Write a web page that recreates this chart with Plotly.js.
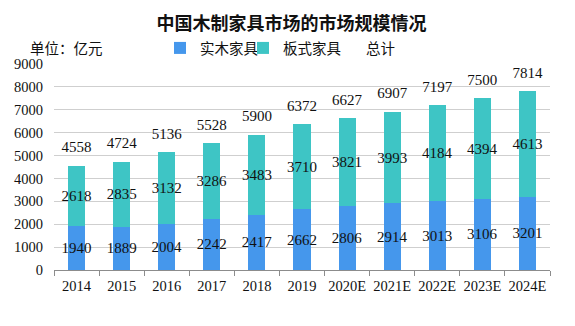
<!DOCTYPE html>
<html>
<head>
<meta charset="utf-8">
<script src="https://cdn.plot.ly/plotly-3.0.1.min.js"></script>
<style>html,body{margin:0;padding:0;background:#fff;}#chart{width:575px;height:326px;}</style>
</head>
<body>
<div id="chart"></div>
<script>
const categories = ["2014","2015","2016","2017","2018","2019","2020E","2021E","2022E","2023E","2024E"];
const solidWood = [1940,1889,2004,2242,2417,2662,2806,2914,3013,3106,3201];
const panel = [2618,2835,3132,3286,3483,3710,3821,3993,4184,4394,4613];
const totals = [4558,4724,5136,5528,5900,6372,6627,6907,7197,7500,7814];
const seriesNames = ["实木家具","板式家具","总计"];
const chartTitle = "中国木制家具市场的市场规模情况";
const unitLabel = "单位：亿元";

const serif = "Liberation Serif, Times New Roman, serif";
const labelFont = {family: serif, size: 15, color: "#111"};
const tickFont = {family: serif, size: 14.5, color: "#111"};
const cjkFont = "Noto Sans CJK SC, sans-serif";

const M = {l: 54, r: 25, t: 62, b: 56};
const W = 575, H = 326;
const plotW = W - M.l - M.r, plotH = H - M.t - M.b;

const traces = [
  {
    type: "bar", name: seriesNames[0], x: categories, y: solidWood,
    marker: {color: "#4597EC"},
    text: solidWood.map(String), textposition: "inside", insidetextanchor: "middle",
    textangle: 0, constraintext: "none", insidetextfont: labelFont, cliponaxis: false,
    hoverinfo: "none"
  },
  {
    type: "bar", name: seriesNames[1], x: categories, y: panel,
    marker: {color: "#3EC5C5"},
    text: panel.map(String), textposition: "inside", insidetextanchor: "middle",
    textangle: 0, constraintext: "none", insidetextfont: labelFont, cliponaxis: false,
    hoverinfo: "none"
  },
  {
    type: "scatter", mode: "lines", name: seriesNames[2], x: categories, y: totals,
    line: {color: "rgba(0,0,0,0)", width: 0}, hoverinfo: "none"
  },
  {
    type: "scatter", mode: "markers+text", showlegend: false, x: categories, y: totals,
    marker: {size: 14, color: "rgba(0,0,0,0)"},
    text: totals.map(String), textposition: "top center", textfont: labelFont,
    cliponaxis: false, hoverinfo: "none"
  }
];

const layout = {
  width: W, height: H,
  margin: M,
  paper_bgcolor: "#fff", plot_bgcolor: "#fff",
  barmode: "stack", bargap: 0.62,
  title: {
    text: "<b>" + chartTitle + "</b>",
    font: {family: cjkFont, size: 18, color: "#111"},
    xref: "container", x: 0.507, xanchor: "center",
    yref: "container", y: 1 - 24/H, yanchor: "middle"
  },
  showlegend: true,
  legend: {
    orientation: "h", xref: "container", yref: "container",
    x: 160/W, xanchor: "left", y: 1 - 48/H, yanchor: "middle",
    font: {family: cjkFont, size: 14.5, color: "#111"},
    entrywidth: 38, entrywidthmode: "pixels", traceorder: "normal",
    bgcolor: "rgba(0,0,0,0)"
  },
  xaxis: {
    type: "category", range: [-0.5, categories.length - 0.5], autorange: false,
    showline: true, linecolor: "#8c8c8c", linewidth: 1,
    ticks: "outside", tickson: "boundaries", ticklen: 5, tickcolor: "#8c8c8c",
    tickangle: 0, automargin: false, ticklabelstandoff: 3,
    tickfont: tickFont, showgrid: false, fixedrange: true
  },
  yaxis: {
    range: [0, 9000], autorange: false, dtick: 1000, tick0: 0, showgrid: true, gridcolor: "#cfcfcf",
    gridwidth: 1, zeroline: false, showline: false, ticks: "", automargin: false,
    ticklabelstandoff: 10, tickfont: tickFont, fixedrange: true
  },
  annotations: [
    {
      text: unitLabel, xref: "paper", yref: "paper",
      x: (28 - M.l)/plotW, xanchor: "left", y: (H - M.b - 45)/plotH, yanchor: "middle",
      showarrow: false, font: {family: cjkFont, size: 14.5, color: "#111"}
    }
  ]
};

Plotly.newPlot("chart", traces, layout, {displayModeBar: false, staticPlot: true});
</script>
</body>
</html>
